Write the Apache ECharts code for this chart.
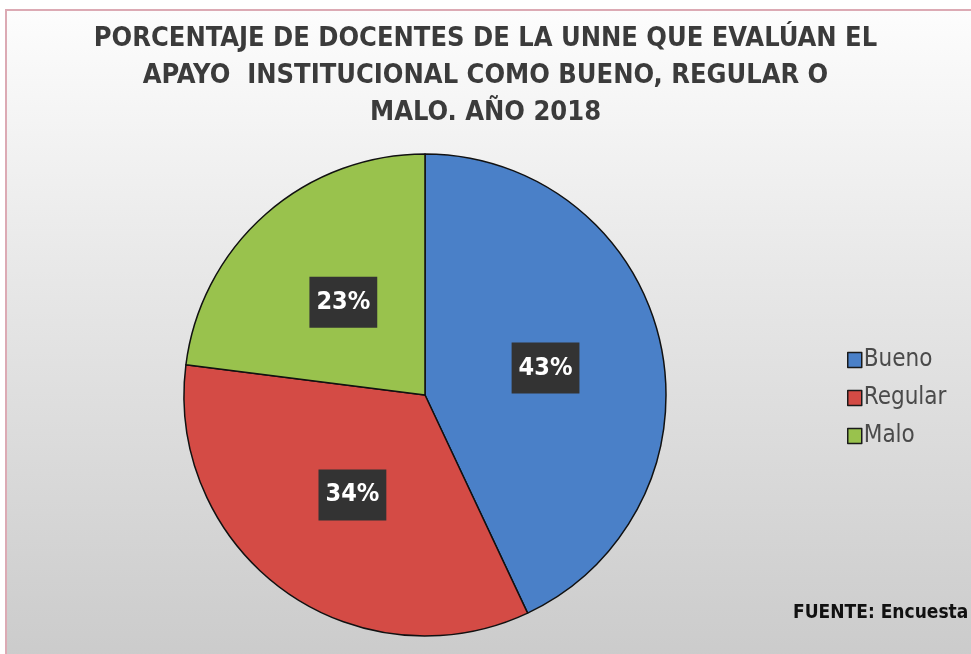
<!DOCTYPE html>
<html>
<head>
<meta charset="utf-8">
<script src="https://cdn.jsdelivr.net/npm/echarts@6/dist/echarts.min.js"></script>
<style>
  html, body { margin: 0; padding: 0; background: #fff; }
  #chart { width: 971px; height: 654px; }
</style>
</head>
<body>
<div id="chart"></div>
<script>
var categories = ['Bueno', 'Regular', 'Malo']
var values = [43, 34, 23]
var colors = ['#4a80c8', '#d44b45', '#99c24d']
var titleText = 'PORCENTAJE DE DOCENTES DE LA UNNE QUE EVALÚAN EL\nAPAYO  INSTITUCIONAL COMO BUENO, REGULAR O\nMALO. AÑO 2018'
var sourceText = 'FUENTE: Encuesta'

var narrow = '"Liberation Sans Narrow", "DejaVu Sans Condensed", sans-serif'

var chart = echarts.init(document.getElementById('chart'))

var option = {
  animation: false,
  backgroundColor: '#fff',
  graphic: [
    {
      type: 'rect',
      z: -10,
      shape: {x: 6, y: 10, width: 970, height: 650},
      style: {
        fill: new echarts.graphic.LinearGradient(0, 0, 0, 1, [
          {offset: 0, color: '#fdfdfd'},
          {offset: 0.4, color: '#e8e8e8'},
          {offset: 1, color: '#cbcbcb'}
        ]),
        stroke: '#dcaab4',
        lineWidth: 2
      }
    },
    {
      type: 'text',
      left: 793,
      top: 604,
      style: {
        text: sourceText,
        font: 'bold 19px ' + narrow,
        fill: '#111'
      }
    }
  ],
  title: {
    text: titleText,
    left: 'center',
    top: 15,
    textStyle: {
      fontFamily: narrow,
      fontWeight: 'bold',
      fontSize: 27,
      lineHeight: 37,
      color: '#3b3b3b'
    }
  },
  legend: {
    orient: 'vertical',
    left: 842,
    top: 343,
    icon: 'rect',
    itemWidth: 14,
    itemHeight: 15,
    itemGap: 14,
    data: categories,
    itemStyle: {borderColor: '#1a1a1a', borderWidth: 1.5},
    textStyle: {
      fontFamily: narrow,
      fontSize: 24,
      color: '#4a4a4a',
      padding: [0, 0, 0, -3]
    }
  },
  series: [
    {
      type: 'pie',
      center: [425, 395],
      radius: 241,
      startAngle: 90,
      clockwise: true,
      data: categories.map(function (name, i) {
        return {name: name, value: values[i], itemStyle: {color: colors[i]}}
      }),
      itemStyle: {borderColor: '#111', borderWidth: 1.5},
      label: {
        position: 'inside',
        formatter: '{c}%',
        color: '#fff',
        fontFamily: narrow,
        fontWeight: 'bold',
        fontSize: 25,
        backgroundColor: '#333',
        padding: [14, 7, 12, 7]
      },
      labelLine: {show: false},
      emphasis: {disabled: true}
    }
  ]
}

chart.setOption(option)
</script>
</body>
</html>
